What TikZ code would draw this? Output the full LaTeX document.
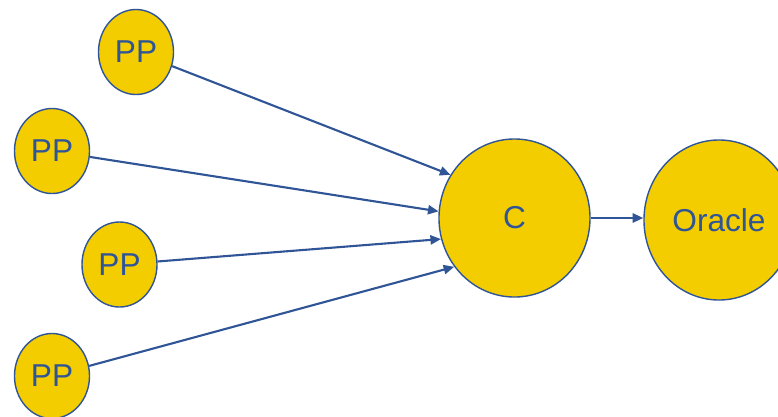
\documentclass[tikz,border=0pt]{standalone}
\usepackage{fontspec}
\setmainfont{Liberation Sans}
\usetikzlibrary{shapes.geometric,arrows.meta}

\definecolor{ppgold}{RGB}{243,205,0}
\definecolor{ppblue}{RGB}{47,85,151}

\tikzset{
  ball/.style={ellipse,draw=ppblue,line width=1pt,fill=ppgold,text=ppblue,
    inner sep=0pt,font=\fontsize{22.5}{22.5}\selectfont},
  small ball/.style={ball,minimum width=1.875cm,minimum height=2.125cm},
  feed/.style={draw=ppblue,line width=1.5pt,-{Triangle[length=7.5pt,width=6.5pt]}}
}

\begin{document}
\begin{tikzpicture}[x=0.025cm,y=-0.025cm]
\useasboundingbox (0,0) rectangle (778,416);

% Process nodes
\node[small ball] (pp1) at (136,52) {PP};
\node[small ball] (pp2) at (52,151) {PP};
\node[small ball] (pp3) at (119.5,264.5) {PP};
\node[small ball] (pp4) at (52,376) {PP};

% Collector and oracle
\node[ball,minimum width=3.775cm,minimum height=3.95cm] (c) at (514.5,218) {C};
\node[ball,minimum width=3.75cm,minimum height=4cm] (oracle) at (719,220) {Oracle};

% Arrows into C
\draw[feed] (pp1) -- (c.146);
\draw[feed] (pp2) -- (c.175);
\draw[feed] (pp3) -- (c.196);
\draw[feed] (pp4) -- (c.219);

% C to oracle
\draw[feed] (c.east) -- (c.east -| oracle.west);
\end{tikzpicture}
\end{document}
